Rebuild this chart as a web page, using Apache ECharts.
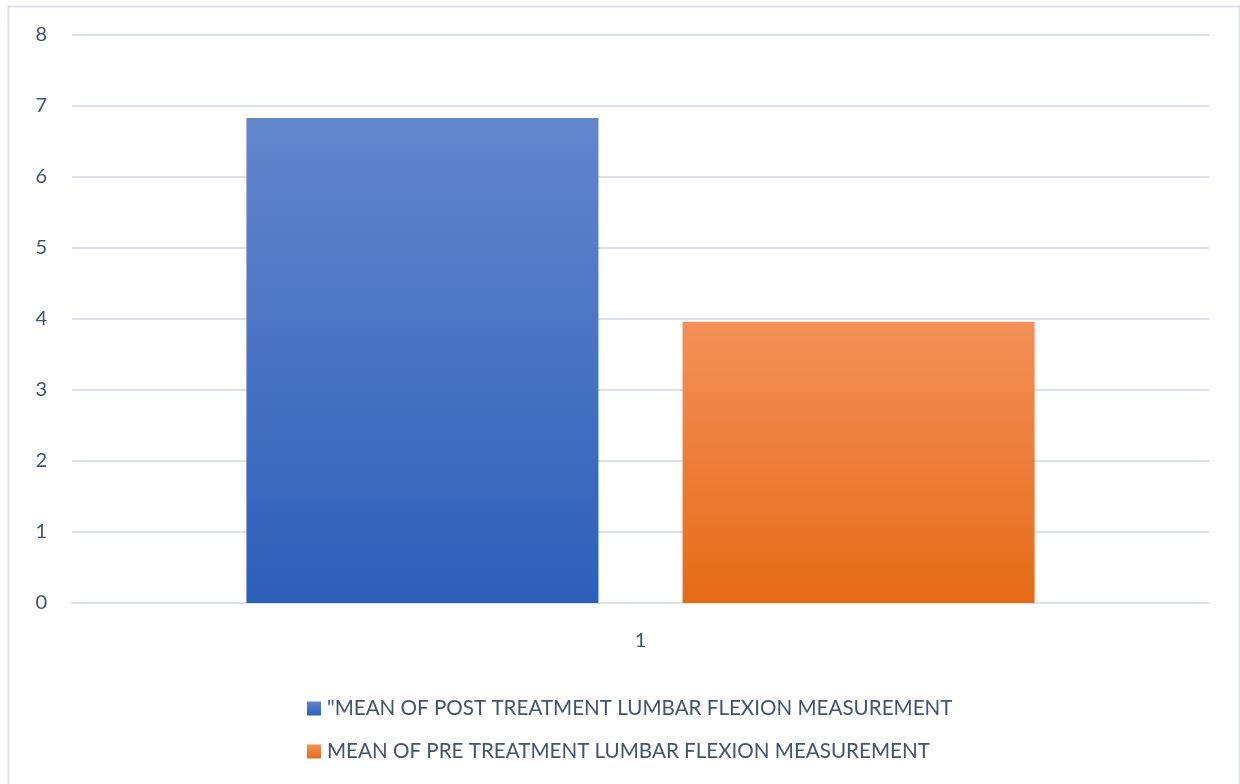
<!DOCTYPE html>
<html>
<head>
<meta charset="utf-8">
<title>Lumbar flexion measurement</title>
<script src="https://cdn.jsdelivr.net/npm/echarts@6/dist/echarts.min.js"></script>
<style>
  html, body { margin: 0; padding: 0; background: #ffffff; }
  #chart { width: 1240px; height: 784px; }
</style>
</head>
<body>
<div id="chart"></div>
<script>
// Category axis and the two measurement means
const categories = ['1'];
const postTreatment = [6.83];
const preTreatment = [3.96];
const seriesNames = [
  '"MEAN OF POST TREATMENT LUMBAR FLEXION MEASUREMENT',
  'MEAN OF PRE TREATMENT LUMBAR FLEXION MEASUREMENT'
];
const yTicks = { min: 0, max: 8, interval: 1 };

const textColor = '#44546a';
const fontFamily = 'Lato, "Open Sans", sans-serif';

function vGradient(top, bottom) {
  return new echarts.graphic.LinearGradient(0, 0, 0, 1, [
    { offset: 0, color: top },
    { offset: 1, color: bottom }
  ]);
}

const chart = echarts.init(document.getElementById('chart'), null, { renderer: 'canvas' });

chart.setOption({
  animation: false,
  backgroundColor: '#ffffff',
  textStyle: { fontFamily: fontFamily, color: textColor },
  graphic: [{
    type: 'rect',
    left: 6, top: 4,
    shape: { width: 1231, height: 800 },
    style: { fill: 'none', stroke: '#dde2ea', lineWidth: 2 },
    silent: true,
    z: -1
  }],
  grid: { left: 72, right: 31, top: 35, bottom: 181, containLabel: false },
  legend: {
    orient: 'vertical',
    left: 302,
    top: 693,
    itemWidth: 14,
    itemHeight: 14,
    itemGap: 22,
    icon: 'rect',
    textStyle: { fontSize: 20.6, color: textColor, fontFamily: fontFamily, padding: [0, 0, 0, 1] },
    data: seriesNames
  },
  xAxis: {
    type: 'category',
    data: categories,
    axisLine: { show: true, lineStyle: { color: '#dde2ea', width: 2 } },
    axisTick: { show: false },
    axisLabel: { fontSize: 20, color: textColor, margin: 28 }
  },
  yAxis: {
    type: 'value',
    min: yTicks.min,
    max: yTicks.max,
    interval: yTicks.interval,
    axisLine: { show: false },
    axisTick: { show: false },
    axisLabel: { fontSize: 20, color: textColor, margin: 25 },
    splitLine: { lineStyle: { color: '#dde2ea', width: 2 } }
  },
  series: [
    {
      name: seriesNames[0],
      type: 'bar',
      data: postTreatment,
      barWidth: 352,
      barGap: '23.9%',
      itemStyle: { color: vGradient('#6386cc', '#2c5fb8') }
    },
    {
      name: seriesNames[1],
      type: 'bar',
      data: preTreatment,
      barWidth: 352,
      barGap: '23.9%',
      itemStyle: { color: vGradient('#f29058', '#e56b17') }
    }
  ]
});
</script>
</body>
</html>
